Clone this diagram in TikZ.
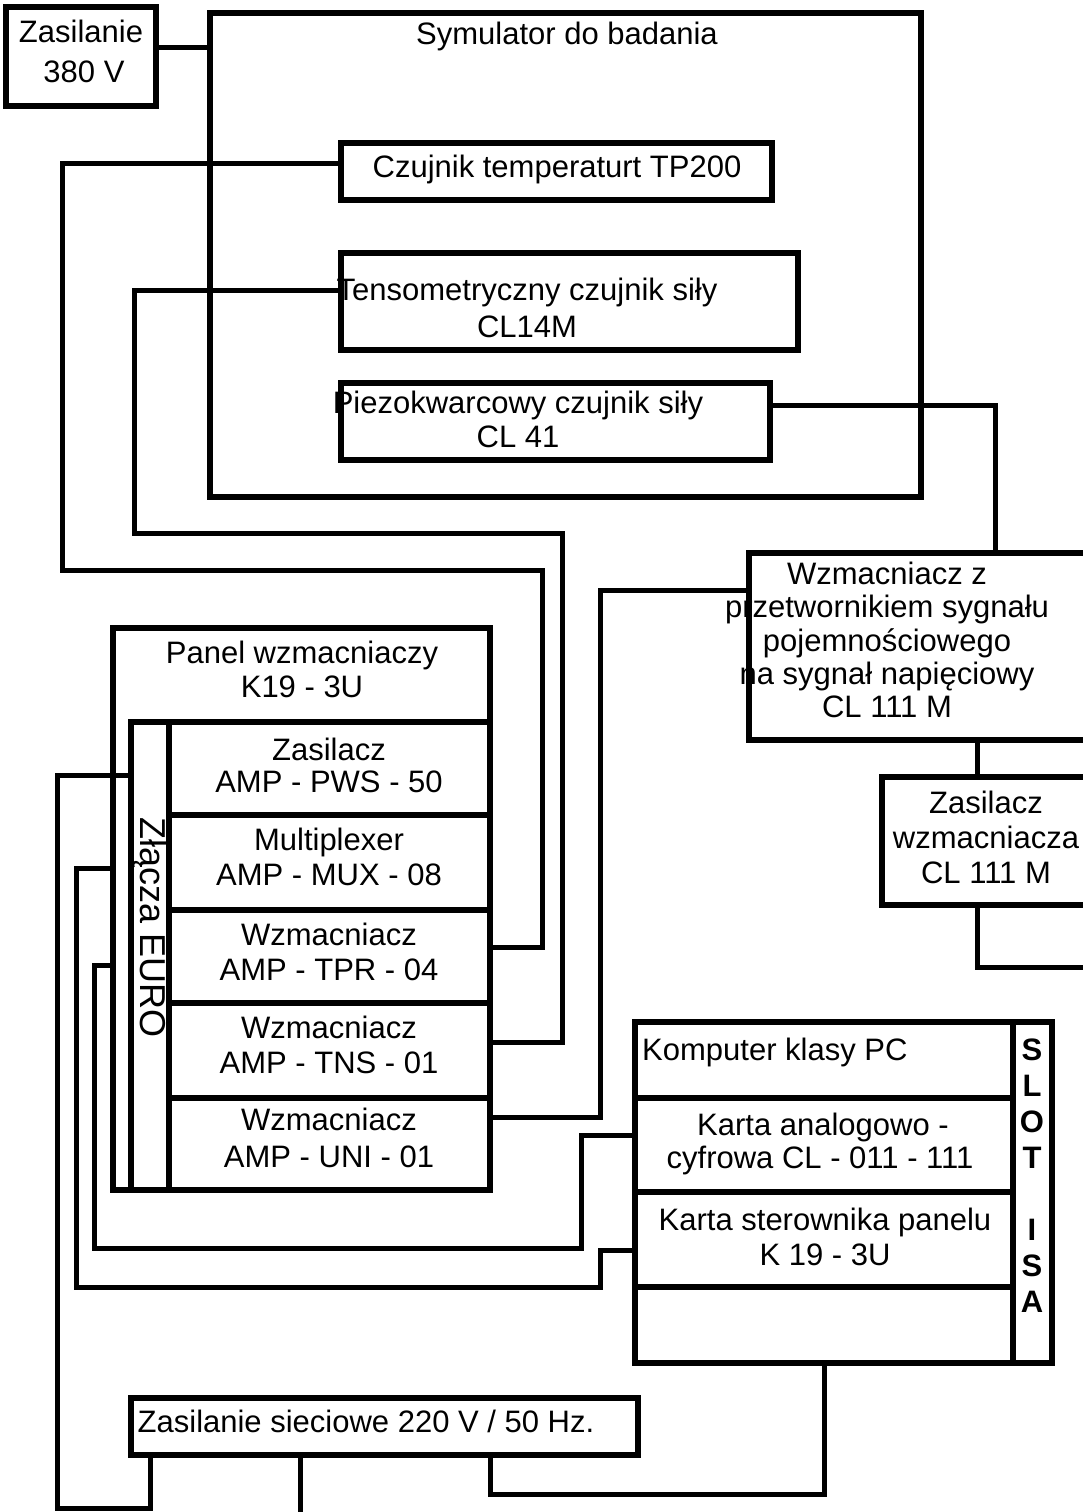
\documentclass[tikz,border=0pt]{standalone}
\usepackage{fontspec}
\setmainfont{Liberation Sans}
\usetikzlibrary{fit}
\begin{document}
\begin{tikzpicture}[x=1pt,y=-1pt,
  box/.style={draw, line width=5.5pt, inner sep=0pt, outer sep=0pt},
  wire/.style={draw, line width=5pt, line join=miter},
  txt/.style={font=\fontsize{31}{35}\selectfont, inner sep=0pt, anchor=base},
  btxt/.style={font=\fontsize{31}{35}\selectfont\bfseries, inner sep=0pt, anchor=base}]
\useasboundingbox (0,0) rectangle (1083,1512);
\fill[white] (0,0) rectangle (1083,1512);
\clip (0,0) rectangle (1083,1512);

% boxes
\node[box, fit={(6,7)(156,106)}] (zas) {};
\node[box, fit={(210,13)(921,497)}] (sym) {};
\node[box, fit={(341,143)(772,200)}] (tp) {};
\node[box, fit={(341,253)(798,350)}] (tens) {};
\node[box, fit={(341,383)(770,460)}] (piezo) {};
\node[box, fit={(749,553)(1100,740)}] (wzm) {};
\node[box, fit={(882,777)(1100,905)}] (zwzm) {};
\node[box, fit={(113,628)(490,1190)}] (panel) {};
\node[box, fit={(131,722)(169,1190)}] (euro) {};
\node[box, fit={(169,722)(490,815)}] (r1) {};
\node[box, fit={(169,815)(490,910)}] (r2) {};
\node[box, fit={(169,910)(490,1003)}] (r3) {};
\node[box, fit={(169,1003)(490,1098)}] (r4) {};
\node[box, fit={(169,1098)(490,1190)}] (r5) {};
\node[box, fit={(635,1022)(1013,1098)}] (c1) {};
\node[box, fit={(635,1098)(1013,1192)}] (c2) {};
\node[box, fit={(635,1192)(1013,1287)}] (c3) {};
\node[box, fit={(635,1287)(1013,1363)}] (c4) {};
\node[box, fit={(1013,1022)(1052,1363)}] (slot) {};
\node[box, fit={(131,1398)(638,1455)}] (zs) {};

% free ends
\coordinate (off1) at (1095,967);
\coordinate (off2) at (300,1520);

% connectors
\draw[wire] (zas.east |- 0,48) -- (sym.west |- 0,48);
\draw[wire] (tp.west |- 0,163) -| (62,570) -| (542,947) -- (r3.east |- 0,947);
\draw[wire] (tens.west |- 0,290) -| (134,533) -| (562,1042) -- (r4.east |- 0,1042);
\draw[wire] (piezo.east |- 0,405) -| (wzm.north -| 995,0);
\draw[wire] (wzm.west |- 0,590) -| (600,1117) -- (r5.east |- 0,1117);
\draw[wire] (wzm.south -| 977,0) -- (zwzm.north -| 977,0);
\draw[wire] (zwzm.south -| 977,0) |- (off1);
\draw[wire] (euro.west |- 0,775) -| (57,1508) -| (zs.south -| 150,0);
\draw[wire] (panel.west |- 0,868) -| (76,1287) -| (600,1250) -- (c3.west |- 0,1250);
\draw[wire] (panel.west |- 0,965) -| (94,1248) -| (581,1135) -- (c2.west |- 0,1135);
\draw[wire] (c4.south -| 824,0) |- (490,1494) -- (zs.south -| 490,0);
\draw[wire] (zs.south -| 300,0) -- (off2);

% texts
\node[txt] (zas1) at (81,43) {Zasilanie};
\node[txt] (zas2) at (84,82) {380 V};
\node[txt] (sym1) at (567,45) {Symulator do badania};
\node[txt] (tp1) at (557,177) {Czujnik temperaturt TP200};
\node[txt] (tens1) at (527,300) {Tensometryczny czujnik siły};
\node[txt] (tens2) at (527,337) {CL14M};
\node[txt] (pz1) at (518,413) {Piezokwarcowy czujnik siły};
\node[txt] (pz2) at (518,447) {CL 41};
\node[txt] (w1) at (887,584) {Wzmacniacz z};
\node[txt] (w2) at (887,617) {przetwornikiem sygnału};
\node[txt] (w3) at (887,651) {pojemnościowego};
\node[txt] (w4) at (887,684) {na sygnał napięciowy};
\node[txt] (w5) at (887,717) {CL 111 M};
\node[txt] (zw1) at (986,813) {Zasilacz};
\node[txt] (zw2) at (986,848) {wzmacniacza};
\node[txt] (zw3) at (986,883) {CL 111 M};
\node[txt] (p1) at (302,663) {Panel wzmacniaczy};
\node[txt] (p2) at (302,697) {K19 - 3U};
\node[txt] (r1a) at (329,760) {Zasilacz};
\node[txt] (r1b) at (329,792) {AMP - PWS - 50};
\node[txt] (r2a) at (329,850) {Multiplexer};
\node[txt] (r2b) at (329,885) {AMP - MUX - 08};
\node[txt] (r3a) at (329,945) {Wzmacniacz};
\node[txt] (r3b) at (329,980) {AMP - TPR - 04};
\node[txt] (r4a) at (329,1038) {Wzmacniacz};
\node[txt] (r4b) at (329,1073) {AMP - TNS - 01};
\node[txt] (r5a) at (329,1130) {Wzmacniacz};
\node[txt] (r5b) at (329,1167) {AMP - UNI - 01};
\node[font=\fontsize{36}{40}\selectfont, inner sep=0pt, rotate=-90] (eurot) at (150,928) {Złącza EURO};
\node[txt, anchor=base west] (c1a) at (642,1060) {Komputer klasy PC};
\node[txt] (c2a) at (823,1135) {Karta analogowo -};
\node[txt] (c2b) at (820,1168) {cyfrowa CL - 011 - 111};
\node[txt] (c3a) at (825,1230) {Karta sterownika panelu};
\node[txt] (c3b) at (825,1265) {K 19 - 3U};
\node[btxt] (s1) at (1032,1060) {S};
\node[btxt] (s2) at (1032,1096) {L};
\node[btxt] (s3) at (1032,1132) {O};
\node[btxt] (s4) at (1032,1168) {T};
\node[btxt] (s5) at (1032,1240) {I};
\node[btxt] (s6) at (1032,1276) {S};
\node[btxt] (s7) at (1032,1312) {A};
\node[txt] (zs1) at (366,1432) {Zasilanie sieciowe 220 V / 50 Hz.};
\end{tikzpicture}
\end{document}
